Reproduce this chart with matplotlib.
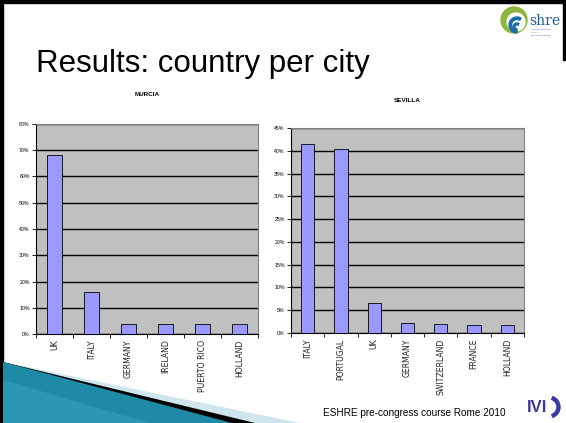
import matplotlib
matplotlib.use("Agg")
import matplotlib.pyplot as plt
from matplotlib.patches import Polygon, Circle, Wedge
from matplotlib.ticker import FixedLocator

plt.rcParams['font.family'] = ['Liberation Sans', 'DejaVu Sans']

# data
murcia_countries = ["UK", "ITALY", "GERMANY", "IRELAND", "PUERTO RICO", "HOLLAND"]
murcia_share = [68, 16, 4, 4, 4, 4]

sevilla_countries = ["ITALY", "PORTUGAL", "UK", "GERMANY", "SWITZERLAND", "FRANCE", "HOLLAND"]
sevilla_share = [41.4, 40.4, 6.6, 2.3, 2.0, 1.8, 1.8]

W, H = 566, 423
fig = plt.figure(figsize=(W / 100, H / 100), dpi=100)
fig.patch.set_facecolor("white")

# slide decoration layer in pixel coordinates
bg = fig.add_axes([0, 0, 1, 1])
bg.set_xlim(0, W)
bg.set_ylim(H, 0)
bg.axis("off")

# black frame (left, top, right)
bg.add_patch(Polygon([(0, 0), (W, 0), (W, 3), (0, 3)], color="black"))
bg.add_patch(Polygon([(0, 0), (3, 0), (3, H), (0, H)], color="black"))
bg.add_patch(Polygon([(W - 3, 0), (W, 0), (W, 60), (W - 3, 60)], color="black"))

# bottom-left swoosh
bg.add_patch(Polygon([(3, 362), (300, 423), (3, 423)], color="#cfe6ee", lw=0))
bg.add_patch(Polygon([(3, 362), (255, 423), (3, 423)], color="black", lw=0))
bg.add_patch(Polygon([(3, 362), (232, 423), (3, 423)], color="#1f8aa6", lw=0))
bg.add_patch(Polygon([(3, 380), (150, 423), (3, 423)], color="#3aa5c2", lw=0, alpha=0.5))

# slide title and footer
bg.text(36, 72, "Results: country per city", fontsize=22.5, color="black", va="baseline")
bg.text(506, 413, "ESHRE pre-congress course Rome 2010", fontsize=7.2, color="black",
        va="center", ha="right")

# IVI logo
bg.text(527, 407, "IVI", fontsize=12, fontweight="bold", color="#3b3aa0", va="center")
bg.add_patch(Wedge((549, 407), 11, -70, 70, width=3, color="#3b3aa0"))

# eshre logo
bg.add_patch(Circle((514, 20), 13, color="#8cb63c"))
bg.add_patch(Circle((516, 22), 9, color="white"))
bg.add_patch(Wedge((517, 25), 8, 90, 300, width=2.5, color="#1b6fa8"))
bg.add_patch(Wedge((517, 27), 4, 90, 300, width=2, color="#1b6fa8"))
bg.text(529, 21, "shre", fontsize=10, family="DejaVu Serif", color="#1b5e9a", va="center")
bg.text(531, 30, "SCIENCE MOVING", fontsize=1.6, color="#1b5e9a")
bg.text(531, 33, "PEOPLE", fontsize=1.6, color="#8cb63c")
bg.text(531, 36, "MOVING SCIENCE", fontsize=1.6, color="#1b5e9a")


def draw_chart(rect, title, title_y, names, values, ymax, ystep):
    ax = fig.add_axes(rect)
    ax.set_facecolor("#c0c0c0")
    n = len(names)
    xs = list(range(n))
    ax.bar(xs, values, width=0.4, color="#9999ff", edgecolor="black", linewidth=0.6, zorder=3)
    ax.set_xlim(-0.5, n - 0.5)
    ax.set_ylim(0, ymax)
    ticks = list(range(0, ymax + 1, ystep))
    ax.set_yticks(ticks)
    ax.set_yticklabels(["%d%%" % t for t in ticks], fontsize=3.8)
    ax.yaxis.grid(True, color="black", linewidth=1.0, zorder=1)
    ax.set_axisbelow(True)
    ax.set_xticks(xs)
    ax.set_xticklabels(names, rotation=90, fontsize=5.6, va="top",
                       family="DejaVu Sans", color="#222222")
    ax.xaxis.set_minor_locator(FixedLocator([i + 0.5 for i in range(-1, n)]))
    ax.tick_params(axis="x", which="major", length=0, pad=4)
    ax.tick_params(axis="x", which="minor", length=3, width=0.6, direction="out")
    ax.tick_params(axis="y", length=3, width=0.6, direction="out", pad=1.5)
    for s in ["top", "right"]:
        ax.spines[s].set_color("#808080")
        ax.spines[s].set_linewidth(0.8)
    for s in ["left", "bottom"]:
        ax.spines[s].set_color("black")
        ax.spines[s].set_linewidth(0.8)
    cx = (rect[0] + rect[2] / 2) * W
    bg.text(cx, title_y, title, fontsize=4.6, fontweight="bold", ha="center", va="center")
    return ax


draw_chart([36 / W, 1 - 334 / H, 222 / W, 210 / H], "MURCIA", 95,
           murcia_countries, murcia_share, 80, 10)
draw_chart([291 / W, 1 - 333 / H, 233 / W, 205 / H], "SEVILLA", 100,
           sevilla_countries, sevilla_share, 45, 5)

fig.savefig("out.png", dpi=100)
